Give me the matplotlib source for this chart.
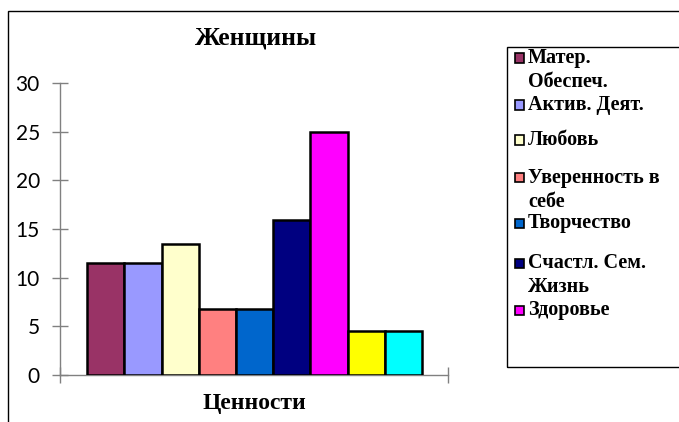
import numpy as np
import matplotlib
matplotlib.use('Agg')
import matplotlib.pyplot as plt
from matplotlib.patches import Rectangle

# --- Data ---
values = [11.5, 11.5, 13.5, 6.8, 6.8, 15.9, 25, 4.5, 4.5]
colors = ['#993366', '#9999FF', '#FFFFCC', '#FF8080', '#0066CC',
          '#000080', '#FF00FF', '#FFFF00', '#00FFFF']
legend_labels = ['Матер.\nОбеспеч.', 'Актив. Деят.', 'Любовь',
                 'Уверенность в\nсебе', 'Творчество',
                 'Счастл. Сем.\nЖизнь', 'Здоровье']
yticks = [0, 5, 10, 15, 20, 25, 30]
title = 'Женщины'
xlabel = 'Ценности'

W, H = 679, 422
serif = 'Liberation Serif'

fig = plt.figure(figsize=(W / 100, H / 100), dpi=100)

# outer chart frame (runs off the right and bottom edges)
fig.patches.append(Rectangle((8 / W, -0.1), 1.2, 1.1 - 11 / H,
                             transform=fig.transFigure, fill=False,
                             edgecolor='black', linewidth=1.0))

ax = fig.add_axes([60 / W, (H - 375) / H, 388 / W, 292 / H])

x = np.arange(len(values))
ax.bar(x, values, width=1.0, color=colors, edgecolor='black',
       linewidth=1.8, zorder=3)

ax.set_ylim(0, 30)
ax.set_xlim(-1.23, 9.2)
ax.set_yticks(yticks)
ax.set_xticks([-1.23, 9.2])
ax.set_xticklabels([])
ax.tick_params(axis='y', direction='inout', length=11, width=1,
               color='#808080', pad=9, labelsize=15)
ax.tick_params(axis='x', direction='inout', length=11, width=1,
               color='#808080')
for lbl in ax.get_yticklabels():
    lbl.set_fontfamily('Lato')

for side in ['top', 'right']:
    ax.spines[side].set_visible(False)
for side in ['left', 'bottom']:
    ax.spines[side].set_color('#808080')
    ax.spines[side].set_linewidth(1)

fig.text(256 / W, 1 - 38 / H, title, ha='center', va='center',
         family=serif, fontweight='bold', fontsize=18.5)
fig.text(254 / W, 1 - 403 / H, xlabel, ha='center', va='center',
         family=serif, fontweight='bold', fontsize=17)

# legend box, drawn by hand so the swatch sits on the first line
fig.patches.append(Rectangle((507 / W, 1 - 367 / H), 0.5, (367 - 47) / H,
                             transform=fig.transFigure, fill=False,
                             edgecolor='black', linewidth=1.0))
entry_y = [58, 105, 140, 178, 223, 263, 310]  # first-line centres, px from top
line_h = 24
for lab, col, y0 in zip(legend_labels, colors, entry_y):
    fig.patches.append(Rectangle((515 / W, 1 - (y0 + 4.5) / H), 9 / W, 9 / H,
                                 transform=fig.transFigure, facecolor=col,
                                 edgecolor='black', linewidth=1.2))
    for j, line in enumerate(lab.split('\n')):
        fig.text(528 / W, 1 - (y0 + j * line_h) / H, line, ha='left',
                 va='center', family=serif, fontweight='bold', fontsize=14.5)

fig.savefig('out.png', dpi=100)
